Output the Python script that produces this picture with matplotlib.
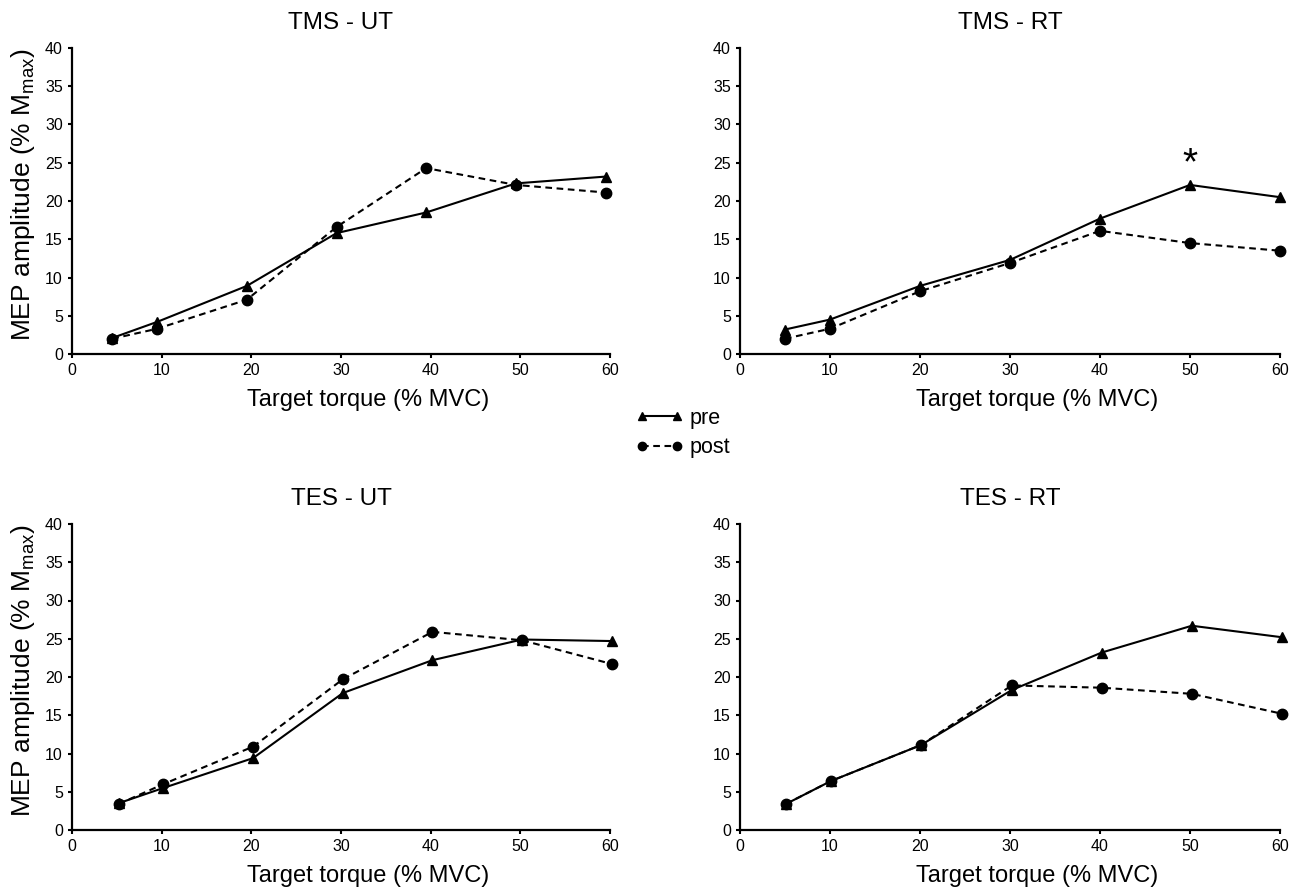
import matplotlib
matplotlib.use("Agg")
import matplotlib.pyplot as plt
from matplotlib.lines import Line2D

plt.rcParams["font.family"] = ["Liberation Sans", "DejaVu Sans"]

# valores (MEP amplitude, % Mmax)
titulos = ["TMS - UT", "TMS - RT", "TES - UT", "TES - RT"]

x_tms_ut = [4.5, 9.5, 19.5, 29.5, 39.5, 49.5, 59.6]
pre_tms_ut = [2.1, 4.2, 8.9, 15.8, 18.5, 22.3, 23.2]
post_tms_ut = [2.0, 3.3, 7.1, 16.6, 24.3, 22.1, 21.1]

x_tms_rt = [5, 10, 20, 30, 40, 50, 60]
pre_tms_rt = [3.2, 4.5, 8.9, 12.3, 17.7, 22.1, 20.5]
post_tms_rt = [2.0, 3.3, 8.2, 11.9, 16.1, 14.5, 13.5]

x_tes_ut = [5.2, 10.2, 20.2, 30.2, 40.2, 50.2, 60.2]
pre_tes_ut = [3.5, 5.5, 9.4, 17.9, 22.2, 24.9, 24.7]
post_tes_ut = [3.4, 6.0, 10.9, 19.7, 25.9, 24.8, 21.7]

x_tes_rt = [5.1, 10.1, 20.1, 30.2, 40.2, 50.2, 60.2]
pre_tes_rt = [3.4, 6.4, 11.1, 18.3, 23.2, 26.7, 25.2]
post_tes_rt = [3.4, 6.4, 11.1, 18.9, 18.6, 17.8, 15.2]

xs = [x_tms_ut, x_tms_rt, x_tes_ut, x_tes_rt]
pres = [pre_tms_ut, pre_tms_rt, pre_tes_ut, pre_tes_rt]
posts = [post_tms_ut, post_tms_rt, post_tes_ut, post_tes_rt]

x_ticks = [0, 10, 20, 30, 40, 50, 60]
y_ticks = [0, 5, 10, 15, 20, 25, 30, 35, 40]

W, H = 1294, 894
fig = plt.figure(figsize=(W / 100, H / 100), dpi=100)

# posiciones de los ejes en pixeles (izq, der, arriba, abajo)
cajas = [(72, 610, 48, 354), (740, 1280, 48, 354),
         (72, 610, 524, 830), (740, 1280, 524, 830)]

punteada = (0, (3.2, 2.2))

for i in range(4):
    l, r, t, b = cajas[i]
    ax = fig.add_axes([l / W, 1 - b / H, (r - l) / W, (b - t) / H])

    ax.plot(xs[i], posts[i], color="black", lw=1.5, linestyle=punteada,
            marker="o", ms=7.5, clip_on=False, zorder=3)
    ax.plot(xs[i], pres[i], color="black", lw=1.5, linestyle="-",
            marker="^", ms=7, clip_on=False, zorder=4)

    ax.set_xlim(0, 60)
    ax.set_ylim(0, 40)
    ax.set_xticks(x_ticks)
    ax.set_yticks(y_ticks)
    ax.spines["top"].set_visible(False)
    ax.spines["right"].set_visible(False)
    ax.spines["left"].set_linewidth(1.6)
    ax.spines["bottom"].set_linewidth(1.6)
    ax.tick_params(direction="out", length=3, width=1.5, labelsize=11.5, pad=3.5)

    ax.set_title(titulos[i], fontsize=17.5, pad=14)
    ax.set_xlabel("Target torque (% MVC)", fontsize=17)
    ax.xaxis.set_label_coords(0.55, -0.115)
    if i % 2 == 0:
        ax.set_ylabel(r"MEP amplitude (% M$\mathregular{_{max}}$)", fontsize=19)
        ax.yaxis.set_label_coords(-0.065, 0.52)

    if i == 1:
        ax.text(50, 24.8, "*", ha="center", va="center", fontsize=28)

# leyenda compartida
h_pre = Line2D([], [], color="black", lw=1.5, marker="^", ms=6)
h_post = Line2D([], [], color="black", lw=1.5, linestyle=punteada, marker="o", ms=6)
fig.legend([h_pre, h_post], ["pre", "post"], loc="center left",
           bbox_to_anchor=(636 / W, 1 - 433 / H), frameon=False, numpoints=2,
           fontsize=15.5, handlelength=2.2, handletextpad=0.3,
           labelspacing=0.4, borderpad=0, borderaxespad=0)

plt.savefig("out.png", dpi=100)
plt.close()
